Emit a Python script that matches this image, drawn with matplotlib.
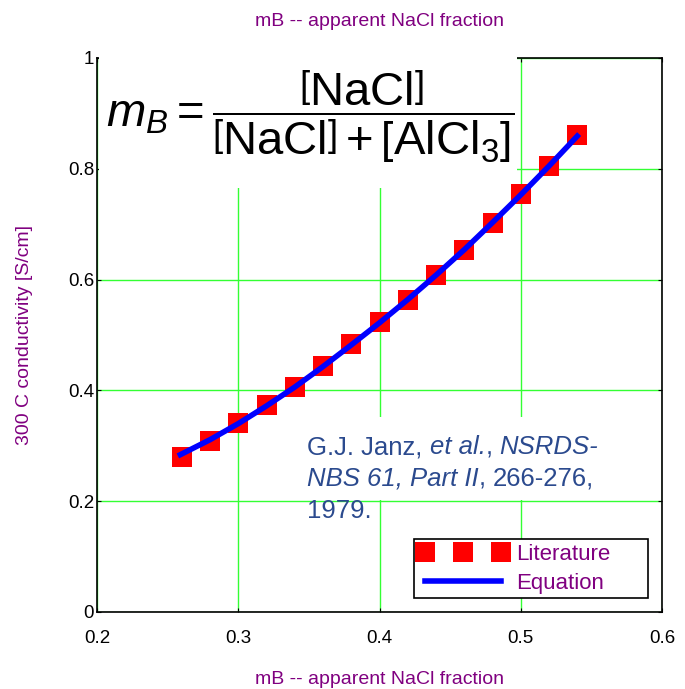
import matplotlib
matplotlib.use("Agg")
import matplotlib.pyplot as plt
from matplotlib.patches import Rectangle
from matplotlib.offsetbox import TextArea, HPacker, VPacker, DrawingArea, AnnotationBbox

# literature points (Janz et al.)
lit_x = [0.26, 0.28, 0.30, 0.32, 0.34, 0.36, 0.38, 0.40, 0.42, 0.44, 0.46, 0.48, 0.50, 0.52, 0.54]
lit_y = [0.280, 0.309, 0.341, 0.374, 0.407, 0.444, 0.483, 0.523, 0.564, 0.608, 0.653, 0.702, 0.754, 0.805, 0.861]

# equation curve
eq_x = [0.259, 0.28, 0.30, 0.32, 0.34, 0.36, 0.38, 0.40, 0.42, 0.44, 0.46, 0.48, 0.50, 0.52, 0.540]
eq_y = [0.284, 0.311, 0.340, 0.372, 0.406, 0.443, 0.482, 0.522, 0.564, 0.608, 0.654, 0.703, 0.753, 0.805, 0.859]

xticks = [0.2, 0.3, 0.4, 0.5, 0.6]
xticklabels = ['0.2', '0.3', '0.4', '0.5', '0.6']
yticks = [0, 0.2, 0.4, 0.6, 0.8, 1.0]
yticklabels = ['0', '0.2', '0.4', '0.6', '0.8', '1']

purple = '#800080'
cite_blue = '#2B4A8E'
cite_size = 18.5

plt.rcParams['font.family'] = ['Liberation Sans', 'DejaVu Sans']
plt.rcParams['mathtext.fontset'] = 'custom'
plt.rcParams['mathtext.rm'] = 'Liberation Sans'
plt.rcParams['mathtext.it'] = 'Liberation Sans:italic'
plt.rcParams['mathtext.bf'] = 'Liberation Sans:bold'

fig = plt.figure(figsize=(6.85, 6.89), dpi=100)
ax = fig.add_axes([97/685, 1-612/689, 565/685, 554/689])

ax.plot(lit_x, lit_y, 's', color='red', markersize=15, markeredgewidth=0, label='Literature', zorder=3)
ax.plot(eq_x, eq_y, '-', color='blue', linewidth=4, label='Equation', zorder=4)

ax.set_xlim(0.2, 0.6)
ax.set_ylim(0, 1)
ax.set_xticks(xticks)
ax.set_xticklabels(xticklabels)
ax.set_yticks(yticks)
ax.set_yticklabels(yticklabels)
ax.tick_params(direction='in', length=3, labelsize=13.5, top=True, right=True)
ax.tick_params(axis='x', pad=13)
ax.tick_params(axis='y', pad=2)
ax.grid(True, color='#33FF33', linewidth=1)
for s in ax.spines.values():
    s.set_linewidth(1.2)

ax.set_title('mB -- apparent NaCl fraction', color=purple, fontsize=14, pad=23)
ax.set_xlabel('mB -- apparent NaCl fraction', color=purple, fontsize=14, labelpad=17)
ax.set_ylabel('300 C conductivity [S/cm]', color=purple, fontsize=14, labelpad=25)

# white boxes behind the annotations
ax.add_patch(Rectangle((0.004, 0.765), 0.74, 0.25, transform=ax.transAxes,
                       facecolor='white', edgecolor='none', zorder=2.6, clip_on=False))
ax.add_patch(Rectangle((0.345, 0.202), 0.2, 0.15, facecolor='white',
                       edgecolor='none', zorder=2.6))

ax.text(0.377, 0.893,
        r'$m_B = \dfrac{\left[\mathrm{NaCl}\right]}{\left[\mathrm{NaCl}\right] + \left[\mathrm{AlCl}_3\right]}$',
        transform=ax.transAxes, ha='center', va='center', fontsize=34, zorder=5)

# citation with mixed upright / italic pieces
def piece(s, italic=False):
    return TextArea(s, textprops=dict(color=cite_blue, fontsize=cite_size,
                                      fontstyle='italic' if italic else 'normal'))

def space():
    return DrawingArea(0.278 * cite_size, 1)

line1 = HPacker(children=[piece('G.J. Janz,'), space(), piece('et al.', True), piece(','),
                          space(), piece('NSRDS-', True)], sep=0, pad=0, align='baseline')
line2 = HPacker(children=[piece('NBS 61, Part II', True), piece(','), space(),
                          piece('266-276,')], sep=0, pad=0, align='baseline')
line3 = HPacker(children=[piece('1979.')], sep=0, pad=0, align='baseline')
cite = VPacker(children=[line1, line2, line3], sep=5.5, pad=0, align='left')
ab = AnnotationBbox(cite, (0.3487, 0.319), xycoords='data', box_alignment=(0, 1),
                    frameon=False, pad=0)
ab.set_zorder(5)
ax.add_artist(ab)

leg = ax.legend(loc='lower left', bbox_to_anchor=(0.561, 0.0253, 0.414, 0.112), mode='expand',
                numpoints=3, fancybox=False, edgecolor='black', framealpha=1, fontsize=16,
                handlelength=4.0, handletextpad=0.4, borderpad=0.2, labelspacing=0.35,
                borderaxespad=0)
leg.get_frame().set_linewidth(1.2)
for t in leg.get_texts():
    t.set_color(purple)
leg.set_zorder(6)

fig.savefig('out.png', dpi=100)
